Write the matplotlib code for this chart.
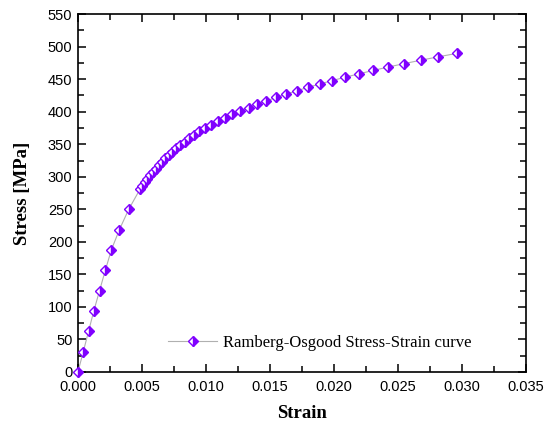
import matplotlib
matplotlib.use("Agg")
import matplotlib.pyplot as plt
from matplotlib.ticker import MultipleLocator
import numpy as np

# strain [-] and stress [MPa]
strain = [0.0, 0.00042, 0.00083, 0.00124, 0.00169, 0.00214, 0.00261, 0.00324, 0.00397,
          0.00486, 0.00504, 0.00522, 0.00542, 0.00562, 0.00584, 0.00606, 0.00630,
          0.00655, 0.00681, 0.00709, 0.00738, 0.00769, 0.00801, 0.00835, 0.00871,
          0.00909, 0.00948, 0.00990, 0.01040, 0.01093, 0.01148, 0.01207, 0.01268,
          0.01333, 0.01401, 0.01473, 0.01548, 0.01628, 0.01711, 0.01799, 0.01891,
          0.01988, 0.02090, 0.02197, 0.02309, 0.02426, 0.02550, 0.02679, 0.02815,
          0.02958]
stress = [0.0, 31.25, 62.5, 93.75, 125.0, 156.25, 187.5, 218.75, 250.0,
          281.25, 286.46, 291.67, 296.87, 302.08, 307.29, 312.5, 317.71,
          322.92, 328.12, 333.33, 338.54, 343.75, 348.96, 354.17, 359.37,
          364.58, 369.79, 375.0, 380.21, 385.42, 390.62, 395.83, 401.04,
          406.25, 411.46, 416.67, 421.87, 427.08, 432.29, 437.5, 442.71,
          447.92, 453.12, 458.33, 463.54, 468.75, 473.96, 479.17, 484.37,
          489.58]

fig = plt.figure(figsize=(5.45, 4.28), dpi=100)
ax = fig.add_axes([0.143, 0.131, 0.822, 0.836])

ax.plot(strain, stress,
        color="#b0b0b0",
        linewidth=0.8,
        marker="D",
        markersize=5.5,
        fillstyle="right",
        markerfacecolor="#8000ff",
        markerfacecoloralt="white",
        markeredgecolor="#8000ff",
        markeredgewidth=1.0,
        label="Ramberg-Osgood Stress-Strain curve",
        clip_on=False,
        zorder=3)

ax.set_xlim(0, 0.035)
ax.set_ylim(0, 550)
ax.xaxis.set_major_locator(MultipleLocator(0.005))
ax.xaxis.set_minor_locator(MultipleLocator(0.0025))
ax.yaxis.set_major_locator(MultipleLocator(50))
ax.yaxis.set_minor_locator(MultipleLocator(25))
ax.xaxis.set_major_formatter(matplotlib.ticker.FormatStrFormatter("%.3f"))

ax.tick_params(which="both", direction="in", top=True, right=True,
               width=1.1, labelsize=10.5)
ax.tick_params(axis="x", pad=6)
ax.tick_params(axis="y", pad=4)
ax.tick_params(which="major", length=6)
ax.tick_params(which="minor", length=4)
for lab in ax.get_xticklabels() + ax.get_yticklabels():
    lab.set_family("Liberation Sans")
for sp in ax.spines.values():
    sp.set_linewidth(1.2)

ax.set_xlabel("Strain", family="Liberation Serif", fontweight="bold",
              fontsize=13.5, labelpad=8)
ax.set_ylabel("Stress [MPa]", family="Liberation Serif", fontweight="bold",
              fontsize=13.5, labelpad=12)

ax.legend(loc="center left",
          bbox_to_anchor=(0.202, 0.082),
          frameon=False,
          borderaxespad=0,
          borderpad=0,
          handlelength=2.9,
          handletextpad=0.35,
          prop={"family": "Liberation Serif", "size": 12})

fig.savefig("out.png", dpi=100)
